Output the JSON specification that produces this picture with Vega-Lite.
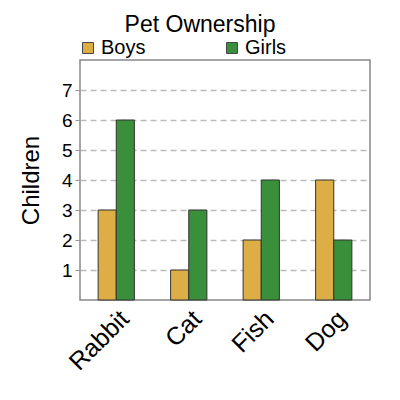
{
  "$schema": "https://vega.github.io/schema/vega-lite/v6.json",
  "width": 290,
  "height": 240,
  "autosize": "none",
  "padding": {"left": 80, "top": 60, "right": 30, "bottom": 100},
  "title": {
    "text": "Pet Ownership",
    "fontSize": 23,
    "font": "Liberation Sans",
    "fontWeight": "normal",
    "color": "black",
    "anchor": "middle",
    "dx": -25,
    "offset": 1
  },
  "data": {
    "values": [
      {"pet": "Rabbit", "group": "Boys", "children": 3},
      {"pet": "Rabbit", "group": "Girls", "children": 6},
      {"pet": "Cat", "group": "Boys", "children": 1},
      {"pet": "Cat", "group": "Girls", "children": 3},
      {"pet": "Fish", "group": "Boys", "children": 2},
      {"pet": "Fish", "group": "Girls", "children": 4},
      {"pet": "Dog", "group": "Boys", "children": 4},
      {"pet": "Dog", "group": "Girls", "children": 2}
    ]
  },
  "mark": {"type": "bar", "stroke": "#333333", "strokeWidth": 1},
  "encoding": {
    "x": {
      "field": "pet",
      "type": "nominal",
      "sort": ["Rabbit", "Cat", "Fish", "Dog"],
      "title": null,
      "scale": {"paddingInner": 0.5, "paddingOuter": 0.25},
      "axis": {
        "labelAngle": -45,
        "labelFontSize": 25,
        "labelFont": "Liberation Sans",
        "labelColor": "black",
        "domain": false,
        "ticks": false,
        "labelPadding": 6
      }
    },
    "xOffset": {"field": "group", "type": "nominal", "scale": {"paddingInner": 0}},
    "y": {
      "field": "children",
      "type": "quantitative",
      "title": "Children",
      "scale": {"domain": [0, 8], "nice": false},
      "axis": {
        "values": [1, 2, 3, 4, 5, 6, 7],
        "labelFontSize": 19,
        "labelFont": "Liberation Sans",
        "labelColor": "black",
        "titleFontSize": 24,
        "titleFont": "Liberation Sans",
        "titleFontWeight": "normal",
        "titleColor": "black",
        "titlePadding": 18,
        "domain": false,
        "tickColor": "#999999",
        "tickSize": 5,
        "labelPadding": 3,
        "grid": true,
        "gridColor": "#bbbbbb",
        "gridDash": [6, 4],
        "gridWidth": 1.5
      }
    },
    "color": {
      "field": "group",
      "type": "nominal",
      "title": null,
      "scale": {"domain": ["Boys", "Girls"], "range": ["#ddae45", "#3a8f3a"]},
      "legend": {
        "orient": "none",
        "legendX": -2,
        "legendY": -22,
        "direction": "horizontal",
        "columns": 2,
        "columnPadding": 76,
        "symbolType": "square",
        "symbolSize": 120,
        "symbolStrokeColor": "#444444",
        "symbolStrokeWidth": 1,
        "labelFontSize": 20,
        "labelFont": "Liberation Sans",
        "labelColor": "black",
        "labelOffset": 3
      }
    }
  },
  "config": {
    "view": {"stroke": "#888888", "strokeWidth": 1.5},
    "background": "white"
  }
}
